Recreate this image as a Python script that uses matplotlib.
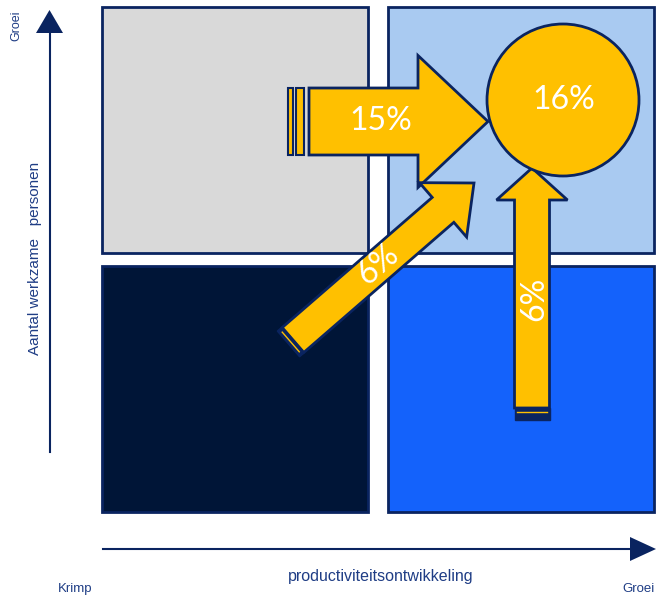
import numpy as np
import matplotlib.pyplot as plt
from matplotlib.patches import Rectangle, Polygon, Circle

# quadrant fill colours (top-left, top-right, bottom-left, bottom-right)
quadrant_colors = ["#d9d9d9", "#a9caf1", "#001537", "#1462fb"]

# growth shares shown in the chart
arrow_labels = ["15%", "6%", "6%"]
circle_label = "16%"

x_label = "productiviteitsontwikkeling"
y_label = "Aantal werkzame   personen"
axis_low = "Krimp"
axis_high = "Groei"

yellow = "#ffc000"
navy = "#0a2460"
text_blue = "#1f3d85"

W, H = 656, 598
fig = plt.figure(figsize=(W / 100, H / 100), dpi=100)
ax = fig.add_axes([0, 0, 1, 1])
ax.set_xlim(0, W)
ax.set_ylim(H, 0)
ax.axis("off")

# quadrants
quads = [(102, 7), (388, 7), (102, 266), (388, 266)]
for (x, y), c in zip(quads, quadrant_colors):
    ax.add_patch(Rectangle((x, y), 266, 246, facecolor=c, edgecolor=navy, lw=2, zorder=1))


def arrow_poly(tail, tip, body_hw, head_hw, head_len):
    tail = np.array(tail, float)
    tip = np.array(tip, float)
    d = tip - tail
    L = np.hypot(*d)
    u = d / L
    n = np.array([-u[1], u[0]])
    base = tip - u * head_len
    pts = [tail + n * body_hw, base + n * body_hw, base + n * head_hw, tip,
           base - n * head_hw, base - n * body_hw, tail - n * body_hw]
    return np.array(pts), u, n


def draw_arrow(tail, tip, body_hw, head_hw, head_len):
    pts, u, n = arrow_poly(tail, tip, body_hw, head_hw, head_len)
    ax.add_patch(Polygon(pts, closed=True, facecolor=yellow, edgecolor=navy, lw=2, zorder=3))
    return u, n


num_font = dict(color="white", family="Lato", ha="center", va="center", zorder=5)

# 15% arrow, horizontal
draw_arrow((309, 121.5), (488, 121.5), 33.5, 66, 70)
for x0, w in [(288, 5), (296, 8)]:
    ax.add_patch(Rectangle((x0, 88), w, 67, facecolor=yellow, edgecolor=navy, lw=1.5, zorder=3))
ax.text(381, 121, arrow_labels[0], fontsize=23, **num_font)

# 6% arrow, diagonal
tail_d, tip_d = (293, 340), (474, 183)
u, n = draw_arrow(tail_d, tip_d, 16.5, 36, 41)
t = np.array(tail_d, float)
stripe = [t + n * 17, t - n * 17, t - n * 17 - u * 6, t + n * 17 - u * 6]
ax.add_patch(Polygon(stripe, closed=True, facecolor=navy, edgecolor=navy, lw=1, zorder=3))
ax.plot([t[0] + n[0] * 13 - u[0] * 3, t[0] - n[0] * 13 - u[0] * 3],
        [t[1] + n[1] * 13 - u[1] * 3, t[1] - n[1] * 13 - u[1] * 3], color=yellow, lw=1, zorder=4)
ang = np.degrees(np.arctan2(-(tip_d[1] - tail_d[1]), tip_d[0] - tail_d[0]))
ax.text(378, 265, arrow_labels[1], fontsize=23, rotation=ang, **num_font)

# 6% arrow, vertical
draw_arrow((532, 408), (532, 168), 17.5, 35.5, 32)
ax.add_patch(Rectangle((514.5, 408), 35, 12, facecolor=navy, edgecolor=navy, lw=1, zorder=3))
ax.plot([517, 547], [412, 412], color=yellow, lw=1, zorder=4)
ax.text(534, 299, arrow_labels[2], fontsize=23, rotation=90, **num_font)

# 16% circle
ax.add_patch(Circle((563, 100), 76, facecolor=yellow, edgecolor=navy, lw=2, zorder=4))
ax.text(564, 100, circle_label, fontsize=23, **num_font)

# axes arrows
ax.plot([50, 50], [452, 28], color=navy, lw=1.5, zorder=2)
ax.add_patch(Polygon([(36, 33), (63, 33), (49.5, 10)], closed=True, facecolor=navy, edgecolor="none"))
ax.plot([103, 636], [549, 549], color=navy, lw=1.5, zorder=2)
ax.add_patch(Polygon([(630, 537), (630, 561), (656, 549)], closed=True, facecolor=navy, edgecolor="none"))

fam = "Liberation Sans"
ax.text(16, 26, axis_high, color=text_blue, fontsize=9, rotation=90, ha="center", va="center", family=fam)
ax.text(35, 258, y_label, color=text_blue, fontsize=11, rotation=90, ha="center", va="center", family=fam)
ax.text(75, 589, axis_low, color=text_blue, fontsize=9.5, ha="center", va="center", family=fam)
ax.text(381, 577, x_label, color=text_blue, fontsize=11.5, ha="center", va="center", family=fam)
ax.text(655, 589, axis_high, color=text_blue, fontsize=9.5, ha="right", va="center", family=fam)

fig.savefig("out.png", dpi=100)
